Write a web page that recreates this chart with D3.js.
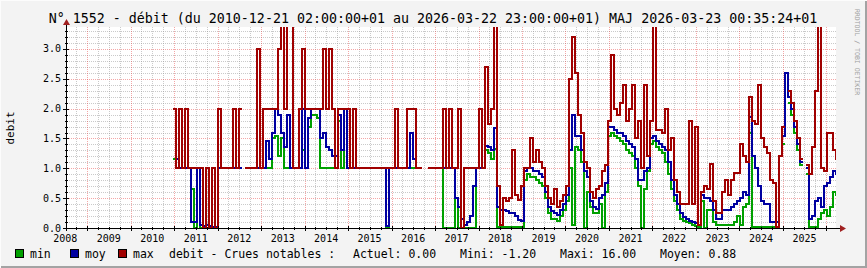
<!DOCTYPE html>
<html>
<head>
<meta charset="utf-8">
<script src="https://cdn.jsdelivr.net/npm/d3@7"></script>
<style>
  body { margin: 0; background: #f3f3f3; }
  svg { display: block; }
  text { font-family: "DejaVu Sans Mono", monospace; }
</style>
</head>
<body>
<svg id="chart" width="867" height="268"></svg>
<script>
// samples every ~25 days starting 2010-12-21
const startDate = Date.UTC(2010, 11, 21);
const stepDays = 25.2;

const minVals = [
  1.15, 1, 1, 1, 1, 1, 0.65, 0, 1, 0,
  0, 0, 0, 0, 0, 1, 1, 1, 1, 1,
  1, 1, 1, null, 1, 1, 1, 1, 1, 1,
  1, 1, 1, 1.5, 1.55, 1.2, 1.5, 1, 1, 1,
  1, 1, 1, 1.3, 1, 1.7, 1.9, 1.9, 1.85, 1,
  1, 1, 1, 1, 1, 1.8, 1, 2, 1, 1,
  1, 1, 1, 1, 1, 1, 1, 1, 1, 1,
  1, 0, 1, 1, 1, 1, 1, 1, 1, 1,
  1, 1, 1, null, null, 1, 1, 1, 1, 1,
  0, 0, 0, 0, 0.5, 0, 0, 0, 0, 0,
  0, 1, 1, 1, 1.3, 1.25, 1.15, 1.33, 0.02, 0.02,
  0.02, 0.02, 0.02, 0.02, 0.02, 0.02, 0.02, 0.8, 0.9, 0.85,
  0.85, 0.8, 0.75, 0.7, 0.5, 0.25, 0.15, 0.15, 0.12, 0.2,
  0.3, 0.45, 1, 0.05, 1.35, 1.3, 1.1, 0, 0.6, 0.35,
  0.25, 0.25, 0.4, 0, 0.6, 1.55, 1.6, 1.55, 1.5, 1.45,
  1.4, 1.3, 1.25, 1.2, 1, 0.7, 0, 0.65, 0.95, 1.4,
  1.45, 1.35, 1.3, 1.25, 1.1, 0.9, 0.65, 0.45, 0.3, 0.15,
  0.12, 0.1, 0.08, 0.05, 0.03, 0.02, 0.45, 0, 0.3, 0.3,
  0.1, 0.05, 0.05, 0.05, 0.05, 0.05, 0.05, 0.1, 0.2, 0.05,
  0.35, 0.4, 1.6, 0.02, 0.02, 0.02, 0.02, 0.02, 0.02, 0.02,
  0.02, 0.02, null, 1.4, null, 2.1, 1.9, 1.6, 1.3, 1.05,
  null, 0.9, 0.02, 0.02, 0.02, 0.15, 0.25, 0.3, 0.2, 0.35,
  0.6, 0.55
];

const moyVals = [
  2, 1.15, 1, 1, 1, 1, 0.1, 0.1, 1, 0.05,
  0.03, 0.05, 0.03, 0.02, 0.02, 1, 1, 1, 1, 1,
  1, 1, 1, null, 1, 1, 1, 1, 1, 1,
  1, 1.45, 1.15, 1.6, 2, 1.9, 1.6, 1.35, 1.9, 1,
  1, 1, 1, 2, 1, 1.85, 2, 2, 2, 1.5,
  1.6, 1.35, 1.3, 1.2, 1.2, 1.9, 1.3, 2, 1, 1,
  1, 1, 1, 1, 1, 1, 1, 1, 1, 1,
  1, 0.03, 1, 1, 1, 1, 1, 1, 1, 1.6,
  1.15, 1, 1, null, null, 1, 1, 1, 1, 1,
  1, 1, 1, 1, 0.5, 0.35, 0.15, 0.05, 0.1, 0.2,
  0.7, 1, 1, 1, 1.38, 1.35, 1.3, 1.68, 0.35, 0.3,
  0.3, 0.28, 0.25, 0.25, 0.2, 0.13, 0.12, 0.95, 1, 1,
  0.95, 0.95, 0.9, 0.85, 0.6, 0.35, 0.28, 0.25, 0.22, 0.3,
  0.4, 0.55, 1.3, 1.9, 1.55, 1.55, 1.3, 0.95, 0.85, 0.45,
  0.35, 0.32, 0.5, 0.55, 0.75, 1.7, 1.7, 1.65, 1.6, 1.6,
  1.55, 1.45, 1.4, 1.35, 1.15, 0.8, 0.8, 0.95, 1, 1.5,
  1.55, 1.45, 1.4, 1.35, 1.3, 1.1, 0.8, 0.55, 0.4, 0.25,
  0.18, 0.15, 0.12, 0.1, 0.08, 0.05, 0.55, 0.5, 0.5, 0.45,
  0.3, 0.15, 0.15, 0.3, 0.3, 0.3, 0.35, 0.4, 0.45, 0.5,
  0.6, 0.55, 1.86, 1.2, 1, 0.7, 0.45, 0.4, 0.4, 0.1,
  0.1, 0.1, 1.2, 1.55, 2.6, 2.2, 2, 1.7, 1.4, 1.1,
  null, 1, 0.15, 0.2, 0.45, 0.5, 0.35, 0.7, 0.75, 0.85,
  0.95, 0.9
];

const maxVals = [
  2, 1, 2, 1, 2, 1, 1, 1, 1, 1,
  0, 1, 0, 1, 0, 2, 1, 1, 1, 1,
  2, 1, 2, null, 1, 1, 1, 1, 3, 1,
  2, 2, 2, 2, 2, 3, 3.4, 2, 3.4, 3.4,
  1, 1, 2, 3, 2, 2, 2, 2, 2, 2,
  3, 2, 3, 2, 1, 2, 2, 2, 2, 1,
  2, 1, 1, 1, 1, 1, 1, 1, 1, 1,
  1, 1, 1, 1, 2, 1, 1, 1, 2, 2,
  2, 1, 1, null, null, 1, 1, 1, 1, 1,
  2, 1, 2, 1, 1, 2, 0, 1, 1, 1,
  1, 1, 2, 1, 2.7, 1.75, 2, 3.4, 0.7, 0.05,
  0.5, 0.45, 0.5, 1.3, 0.55, 0.47, 0.7, 1, 1, 1.5,
  1.1, 1.3, 1.1, 1, 0.7, 0.5, 0.4, 0.65, 0.35, 0.45,
  0.55, 0.7, 2.5, 3.2, 2.6, 1.9, 1.6, 1.1, 1, 0.6,
  0.5, 0.65, 0.7, 0.95, 1.05, 1.8, 2.9, 2, 1.9, 2.1,
  2.4, 1.8, 2, 2.4, 1.5, 1.8, 1, 2.4, 1.2, 1.8,
  3.4, 1.65, 1.65, 1.6, 2, 1.3, 1.5, 0.8, 0.6, 0.41,
  0.41, 0.41, 1.8, 0.41, 1.7, 0.05, 0.6, 0.7, 0.65, 1.08,
  0.45, 0.25, 0.25, 0.6, 0.8, 0.55, 0.8, 0.92, 0.92, 1.4,
  1.2, 1.1, 2.2, 1.8, 1.75, 2.4, 1.5, 1.35, 1.25, 0.8,
  0.75, 0.02, 1.2, 1.7, null, 2.3, 2.1, 1.8, 1.5, 1.15,
  null, 1.05, 0.9, 1.35, 2.3, 3.4, 1, 0.95, 1.6, 1.6,
  1.3, 1.15
];

const yearLabels = ["2008", "2009", "2010", "2011", "2012", "2013", "2014", "2015", "2016",
  "2017", "2018", "2019", "2020", "2021", "2022", "2023", "2024", "2025"];
const yLabels = ["0.0", "0.5", "1.0", "1.5", "2.0", "2.5", "3.0"];

const series = [
  { name: "min", values: minVals, color: "#00a000" },
  { name: "moy", values: moyVals, color: "#0000a0" },
  { name: "max", values: maxVals, color: "#a00000" }
];

const title = "N° 1552 - débit (du 2010-12-21 02:00:00+01 au 2026-03-22 23:00:00+01) MAJ 2026-03-23 00:35:24+01";
const legendInfo = [
  { text: "debit - Crues notables :", x: 169 },
  { text: "Actuel: 0.00", x: 353 },
  { text: "Mini: -1.20", x: 460 },
  { text: "Maxi: 16.00", x: 560 },
  { text: "Moyen: 0.88", x: 660 }
];

var svg = d3.select("#chart"),
    W = 867, H = 268,
    pLeft = 67, pRight = 836, pTop = 27, pBottom = 228;

var x = d3.scaleUtc()
    .domain([new Date(Date.UTC(2008, 6, 15)), new Date(Date.UTC(2026, 2, 22, 23))])
    .range([pLeft, pRight]);
var y = d3.scaleLinear()
    .domain([0, 3.36])
    .range([pBottom, pTop + 0.5]);

// background + frame
svg.append("rect").attr("width", W).attr("height", H).attr("fill", "#f3f3f3");
svg.append("rect").attr("x", W - 2).attr("width", 2).attr("height", H).attr("fill", "#a3a3a3");
svg.append("rect").attr("y", H - 2).attr("width", W).attr("height", 2).attr("fill", "#a3a3a3");
svg.append("rect").attr("x", 0).attr("width", 1).attr("height", H).attr("fill", "#fcfcfc");
svg.append("rect").attr("y", 0).attr("width", W).attr("height", 1).attr("fill", "#fcfcfc");

svg.append("rect")
    .attr("x", pLeft).attr("y", pTop)
    .attr("width", pRight - pLeft).attr("height", pBottom - pTop)
    .attr("fill", "#fff");

// grid
var grid = svg.append("g").attr("shape-rendering", "crispEdges");
var dom = x.domain();
var minorX = d3.utcMonth.every(3).range(dom[0], dom[1]).filter(d => d.getUTCMonth() !== 0);
var majorX = d3.utcYear.range(dom[0], dom[1]);
var minorY = d3.range(1, 34).filter(d => d % 5 !== 0).map(d => d / 10);
var majorY = d3.range(1, 7).map(d => d * 0.5);

function vlines(cls, data, color) {
  grid.selectAll("." + cls).data(data).enter().append("line")
      .attr("class", cls)
      .attr("x1", d => Math.round(x(d)) + 0.5).attr("x2", d => Math.round(x(d)) + 0.5)
      .attr("y1", pTop).attr("y2", pBottom)
      .attr("stroke", color).attr("stroke-dasharray", "1,1");
}
function hlines(cls, data, color) {
  grid.selectAll("." + cls).data(data).enter().append("line")
      .attr("class", cls)
      .attr("x1", pLeft).attr("x2", pRight)
      .attr("y1", d => Math.round(y(d)) + 0.5).attr("y2", d => Math.round(y(d)) + 0.5)
      .attr("stroke", color).attr("stroke-dasharray", "1,1");
}
vlines("vminor", minorX, "rgba(150,150,150,0.5)");
hlines("hminor", minorY, "rgba(150,150,150,0.5)");
vlines("vmajor", majorX, "rgba(230,60,60,0.45)");
hlines("hmajor", majorY, "rgba(230,60,60,0.45)");

// data lines (step, 2px)
svg.append("clipPath").attr("id", "clip")
  .append("rect").attr("x", pLeft).attr("y", pTop).attr("width", pRight - pLeft).attr("height", pBottom - pTop + 2);

var stepMs = stepDays * 864e5;
function stepPoints(vals) {
  const pts = [];
  vals.forEach((v, i) => {
    if (v == null) { pts.push(null); return; }
    pts.push({ t: new Date(startDate + i * stepMs), v: v });
    pts.push({ t: new Date(startDate + (i + 1) * stepMs), v: v });
  });
  return pts;
}
var line = d3.line()
    .defined(d => d != null)
    .x(d => x(d.t))
    .y(d => y(d.v));

var lines = svg.append("g").attr("clip-path", "url(#clip)");
series.forEach(s => {
  lines.append("path")
      .datum(stepPoints(s.values))
      .attr("fill", "none")
      .attr("stroke", s.color)
      .attr("stroke-width", 2)
      .attr("shape-rendering", "crispEdges")
      .attr("d", line);
});

// axes
var axes = svg.append("g").attr("shape-rendering", "crispEdges");
axes.append("line").attr("x1", pLeft - 3).attr("x2", pRight + 5)
    .attr("y1", pBottom + 0.5).attr("y2", pBottom + 0.5).attr("stroke", "#000");
axes.append("line").attr("x1", pLeft - 0.5).attr("x2", pLeft - 0.5)
    .attr("y1", pBottom + 3).attr("y2", pTop - 4).attr("stroke", "#000");
axes.selectAll(".xt").data(majorX).enter().append("line")
    .attr("x1", d => Math.round(x(d)) + 0.5).attr("x2", d => Math.round(x(d)) + 0.5)
    .attr("y1", pBottom - 2).attr("y2", pBottom + 3).attr("stroke", "#000");
axes.selectAll(".xm").data(minorX).enter().append("line")
    .attr("x1", d => Math.round(x(d)) + 0.5).attr("x2", d => Math.round(x(d)) + 0.5)
    .attr("y1", pBottom - 1).attr("y2", pBottom + 2).attr("stroke", "#000");
axes.selectAll(".yt").data([0].concat(majorY)).enter().append("line")
    .attr("x1", pLeft - 4).attr("x2", pLeft + 2)
    .attr("y1", d => Math.round(y(d)) + 0.5).attr("y2", d => Math.round(y(d)) + 0.5).attr("stroke", "#000");
axes.selectAll(".ym").data(minorY).enter().append("line")
    .attr("x1", pLeft - 2).attr("x2", pLeft + 1)
    .attr("y1", d => Math.round(y(d)) + 0.5).attr("y2", d => Math.round(y(d)) + 0.5).attr("stroke", "#000");

// arrows
svg.append("path").attr("d", `M${pRight + 4},${pBottom - 3}L${pRight + 10},${pBottom + 0.5}L${pRight + 4},${pBottom + 4}Z`)
    .attr("fill", "#a02020");
svg.append("path").attr("d", `M${pLeft - 4},${pTop - 2}L${pLeft - 0.5},${pTop - 8}L${pLeft + 3},${pTop - 2}Z`)
    .attr("fill", "#a02020");

// tick labels
svg.selectAll(".xl").data(yearLabels).enter().append("text")
    .attr("x", d => x(new Date(Date.UTC(+d, 6, 1))))
    .attr("y", 242)
    .attr("text-anchor", "middle")
    .attr("font-size", "10px")
    .attr("fill", "#000")
    .text(d => d);
svg.selectAll(".yl").data(yLabels).enter().append("text")
    .attr("x", 61)
    .attr("y", d => y(+d) + 3.5)
    .attr("text-anchor", "end")
    .attr("font-size", "10px")
    .attr("fill", "#000")
    .text(d => d);

// title, y title, watermark
svg.append("text").attr("x", 433).attr("y", 23).attr("text-anchor", "middle")
    .attr("font-size", "13.3px").attr("fill", "#000").text(title);
svg.append("text").attr("transform", "translate(14,128) rotate(-90)")
    .attr("text-anchor", "middle").attr("font-size", "11px").attr("fill", "#000").text("debit");
svg.append("text").attr("transform", "translate(855,52) rotate(90)")
    .attr("text-anchor", "middle").attr("font-size", "6.5px").attr("fill", "#a0a0a0")
    .text("RRDTOOL / TOBI OETIKER");

// legend
var leg = svg.append("g");
var legX = [15, 70, 118];
series.forEach((s, i) => {
  leg.append("rect").attr("x", legX[i] + 0.5).attr("y", 249.5).attr("width", 8).attr("height", 8)
      .attr("fill", s.color).attr("stroke", "#000");
  leg.append("text").attr("x", legX[i] + 15).attr("y", 258)
      .attr("font-size", "11.5px").attr("fill", "#000").text(s.name);
});
legendInfo.forEach(d => {
  leg.append("text").attr("x", d.x).attr("y", 258)
      .attr("font-size", "11.5px").attr("fill", "#000").attr("xml:space", "preserve").text(d.text);
});
</script>
</body>
</html>
